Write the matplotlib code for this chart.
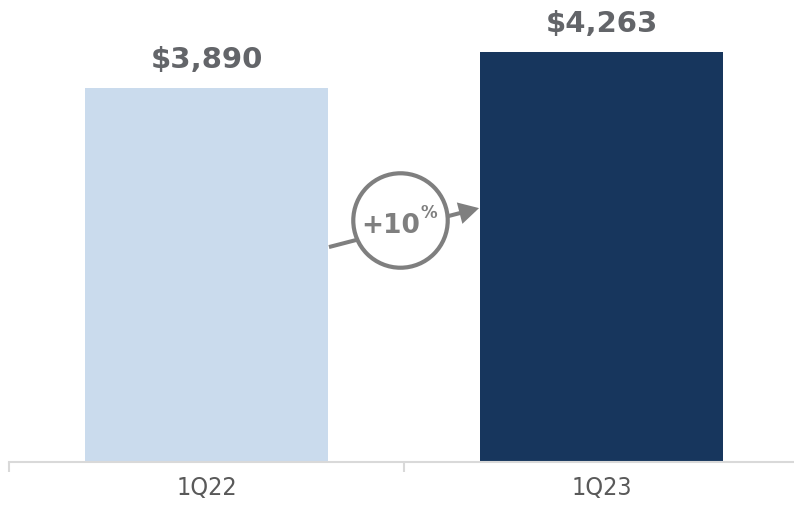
import matplotlib.pyplot as plt

# quarterly figures
quarters = ['1Q22', '1Q23']
values = [3890, 4263]
bar_colors = ['#cadbed', '#17365d']
growth_label = '+10'

fig = plt.figure(figsize=(7.94, 5.14), dpi=100)
ax = fig.add_axes([9 / 794, 52 / 514, 790 / 794, 452 / 514])

x = list(range(len(quarters)))
ax.bar(x, values, width=0.615, color=bar_colors, zorder=2)

# value labels above the bars
for xi, v in zip(x, values):
    ax.annotate(f'${v:,}', (xi, v), xytext=(0, 10), textcoords='offset points',
                ha='center', va='bottom', fontsize=21, fontweight='bold',
                color='#636569', family='DejaVu Sans')

ax.set_xlim(-0.5, 1.5)
ax.set_ylim(0, 4700)

# growth arrow with circled percentage
gray = '#7f7f7f'
ax.annotate('', xy=(0.69, 2640), xytext=(0.31, 2235),
            arrowprops=dict(arrowstyle='-|>,head_length=1.0,head_width=0.55',
                            color=gray, lw=2.9, shrinkA=0, shrinkB=0,
                            joinstyle='miter', capstyle='butt'), zorder=3)
cx, cy = 0.489, 2516
ax.plot(cx, cy, marker='o', markersize=68, mfc='white', mec=gray, mew=3,
        zorder=4, clip_on=False)
ax.annotate(growth_label, (cx, cy), xytext=(15, -4), textcoords='offset points',
            ha='right', va='center', fontsize=19, fontweight='bold', color=gray,
            zorder=5)
ax.annotate('%', (cx, cy), xytext=(15, 5), textcoords='offset points',
            ha='left', va='center', fontsize=12, fontweight='bold', color=gray,
            zorder=5)

# axis styling
for s in ['top', 'right', 'left']:
    ax.spines[s].set_visible(False)
ax.spines['bottom'].set_color('#d9d9d9')
ax.spines['bottom'].set_linewidth(1.5)
ax.set_yticks([])
ax.set_xticks(x)
ax.set_xticklabels(quarters, fontsize=18, color='#595959', fontstretch='condensed')
ax.tick_params(axis='x', which='major', length=0, pad=10)
ax.set_xticks([-0.5, 0.5, 1.5], minor=True)
ax.tick_params(axis='x', which='minor', length=7, color='#d9d9d9', width=1.5)

fig.savefig('out.png', dpi=100)
